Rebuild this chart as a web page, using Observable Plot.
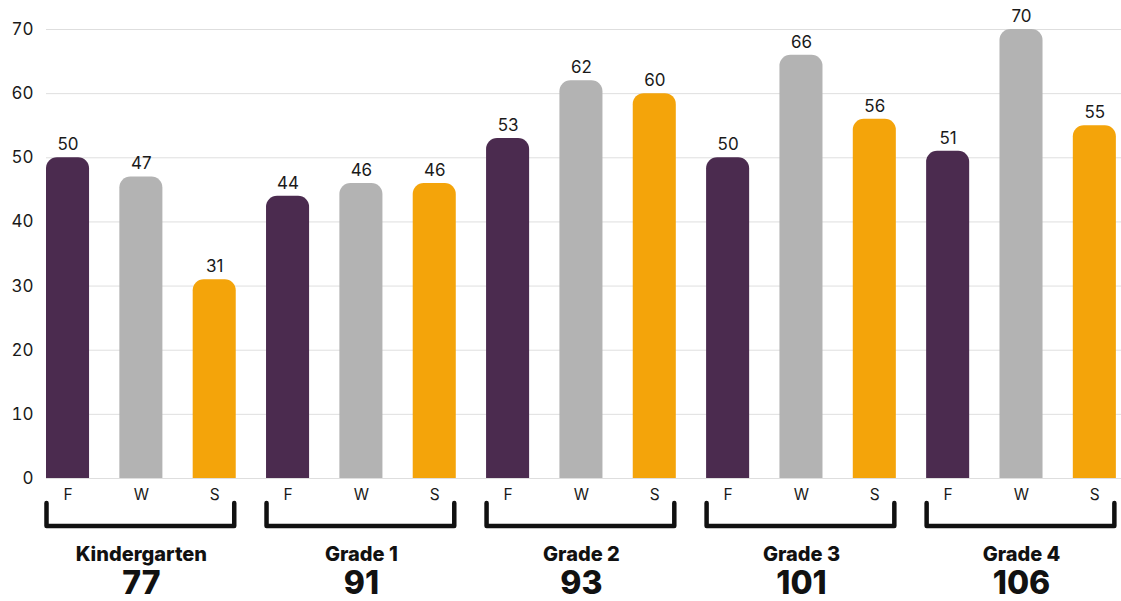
<!DOCTYPE html>
<html><head><meta charset="utf-8">
<script src="https://cdn.jsdelivr.net/npm/d3@7"></script>
<script src="https://cdn.jsdelivr.net/npm/@observablehq/plot@0.6"></script>
<style>
body{margin:0;background:#fff;}
#chart svg{display:block;}
</style>
</head><body><div id="chart"></div>
<script>
const grades = ["Kindergarten", "Grade 1", "Grade 2", "Grade 3", "Grade 4"];
const seasons = ["F", "W", "S"];
const fallValues = [50, 44, 53, 50, 51];
const winterValues = [47, 46, 62, 66, 70];
const springValues = [31, 46, 60, 56, 55];
const totals = [77, 91, 93, 101, 106];
const yTicks = [0, 10, 20, 30, 40, 50, 60, 70];
const seasonColors = ["#4B2B4F", "#B3B3B3", "#F4A40A"];

const seriesValues = {F: fallValues, W: winterValues, S: springValues};
const bars = grades.flatMap((g, gi) => seasons.map(s => ({
  grade: g, season: s, key: g + "|" + s, value: seriesValues[s][gi]
})));
const keys = bars.map(d => d.key);
const groups = grades.map((g, gi) => ({
  grade: g, total: totals[gi], first: g + "|F", mid: g + "|W", last: g + "|S"
}));
const PAD_INNER = 0.413;
const FONT = "Inter, 'DejaVu Sans', sans-serif";

function brackets(index, scales) {
  const x = scales.x, y = scales.y;
  let bw;
  if (typeof x.bandwidth === "function") bw = x.bandwidth();
  else bw = (x(keys[1]) - x(keys[0])) * (1 - PAD_INNER);
  const y0 = y(0);
  const g = d3.create("svg:g");
  for (const d of groups) {
    const x0 = x(d.first) + 0.5, x1 = x(d.last) + bw - 1.5;
    g.append("path")
      .attr("d", `M${x0},${y0 + 25}V${y0 + 48}H${x1}V${y0 + 25}`)
      .attr("fill", "none")
      .attr("stroke", "#111")
      .attr("stroke-width", 4.5)
      .attr("stroke-linejoin", "round")
      .attr("stroke-linecap", "round");
  }
  return g.node();
}

const chart = Plot.plot({
  width: 1121,
  height: 601,
  marginTop: 29,
  marginBottom: 123,
  marginLeft: 46,
  marginRight: 0,
  style: {fontFamily: FONT, color: "#1a1a1a", background: "#fff"},
  x: {domain: keys, paddingInner: PAD_INNER, paddingOuter: 0.035, align: 0, round: false, label: null},
  y: {domain: [0, 70], label: null},
  color: {domain: seasons, range: seasonColors},
  marks: [
    Plot.gridY(yTicks, {stroke: "#000", strokeOpacity: 0.13}),
    Plot.axisY(yTicks, {tickSize: 0, tickPadding: 13, fontSize: 17, label: null}),
    Plot.axisX({tickSize: 0, tickPadding: 10, fontSize: 15.5, label: null, tickFormat: k => k.split("|")[1]}),
    Plot.barY(bars, {x: "key", y: "value", fill: "season", rx: 11, insetBottom: -14, clip: true}),
    Plot.text(bars, {x: "key", y: "value", text: d => String(d.value), dy: -13, fontSize: 17, fill: "#1a1a1a"}),
    brackets,
    Plot.text(groups, {x: "mid", y: 0, text: "grade", dy: 76, fontSize: 20, fontWeight: 800, fill: "#111"}),
    Plot.text(groups, {x: "mid", y: 0, text: d => String(d.total), dy: 105, fontSize: 32, fontWeight: 800, fill: "#111"})
  ]
});
document.getElementById("chart").append(chart);
</script>
</body></html>
